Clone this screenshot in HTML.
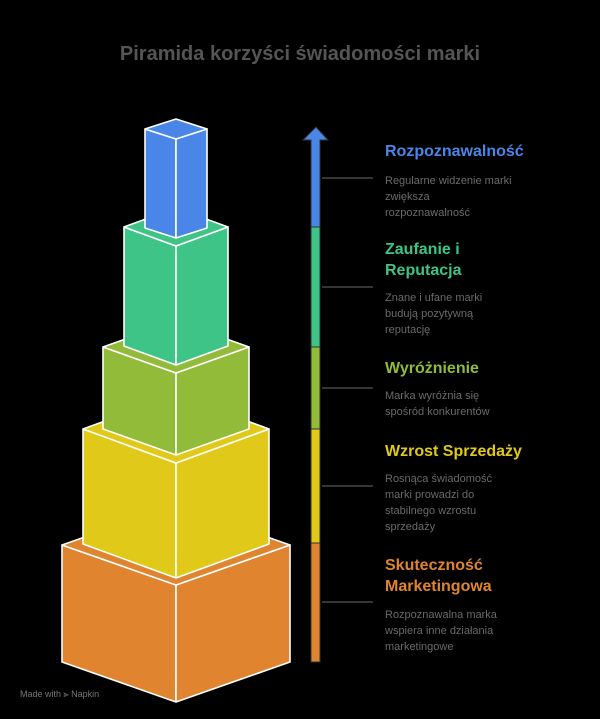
<!DOCTYPE html>
<html><head><meta charset="utf-8"><style>
html,body{margin:0;padding:0;background:#000;}
svg{display:block;}
text{font-family:"Liberation Sans",sans-serif;}
.h{font-size:16px;font-weight:bold;}
.d{font-size:11px;fill:#6a6a6a;}
</style></head><body>
<svg width="600" height="719" viewBox="0 0 600 719" xmlns="http://www.w3.org/2000/svg">
<rect width="600" height="719" fill="#000"/>
<text x="300" y="60" text-anchor="middle" font-size="20" font-weight="bold" fill="#555">Piramida korzyści świadomości marki</text>
<g stroke="#fff" stroke-width="1.6" stroke-linejoin="round">
<polygon points="62,545 176,585 176,702 62,662" fill="#e08430"/>
<polygon points="176,585 290,545 290,662 176,702" fill="#e08430"/>
<polygon points="176,585 62,545 176,505 290,545" fill="#e08430"/>
<polygon points="83,429 176,463 176,578 83,544" fill="#e0c918"/>
<polygon points="176,463 269,429 269,544 176,578" fill="#e0c918"/>
<polygon points="176,463 83,429 176,395 269,429" fill="#e0c918"/>
<polygon points="103,347 176,373 176,455 103,429" fill="#92bb3a"/>
<polygon points="176,373 249,347 249,429 176,455" fill="#92bb3a"/>
<polygon points="176,373 103,347 176,321 249,347" fill="#92bb3a"/>
<polygon points="124,227 176,246 176,365 124,346" fill="#3dc486"/>
<polygon points="176,246 228,227 228,346 176,365" fill="#3dc486"/>
<polygon points="176,246 124,227 176,208 228,227" fill="#3dc486"/>
<polygon points="145,129 176,139 176,238 145,228" fill="#4a86e8"/>
<polygon points="176,139 207,129 207,228 176,238" fill="#4a86e8"/>
<polygon points="176,139 145,129 176,119 207,129" fill="#4a86e8"/>
</g>
<g stroke="#333" stroke-width="1">
<polygon points="316,127 328,140 320,140 320,227 311,227 311,140 303,140" fill="#4a86e8"/>
<rect x="311" y="227" width="9" height="120" fill="#3dc486"/>
<rect x="311" y="347" width="9" height="82" fill="#92bb3a"/>
<rect x="311" y="429" width="9" height="114" fill="#e0c918"/>
<rect x="311" y="543" width="9" height="119" fill="#e08430"/>
</g>
<g stroke="#555" stroke-width="1.2">
<line x1="322" y1="178" x2="373" y2="178"/>
<line x1="322" y1="287" x2="373" y2="287"/>
<line x1="322" y1="388" x2="373" y2="388"/>
<line x1="322" y1="486" x2="373" y2="486"/>
<line x1="322" y1="602" x2="373" y2="602"/>
</g>
<text class="h" x="385" y="156" fill="#4a86e8">Rozpoznawalność</text>
<text class="d" x="385" y="184">Regularne widzenie marki</text>
<text class="d" x="385" y="200">zwiększa</text>
<text class="d" x="385" y="216">rozpoznawalność</text>
<text class="h" x="385" y="254" fill="#3dc486">Zaufanie i</text>
<text class="h" x="385" y="275" fill="#3dc486">Reputacja</text>
<text class="d" x="385" y="301">Znane i ufane marki</text>
<text class="d" x="385" y="317">budują pozytywną</text>
<text class="d" x="385" y="333">reputację</text>
<text class="h" x="385" y="373" fill="#92bb3a">Wyróżnienie</text>
<text class="d" x="385" y="399">Marka wyróżnia się</text>
<text class="d" x="385" y="415">spośród konkurentów</text>
<text class="h" x="385" y="456" fill="#e0c918">Wzrost Sprzedaży</text>
<text class="d" x="385" y="482">Rosnąca świadomość</text>
<text class="d" x="385" y="498">marki prowadzi do</text>
<text class="d" x="385" y="514">stabilnego wzrostu</text>
<text class="d" x="385" y="530">sprzedaży</text>
<text class="h" x="385" y="570" fill="#e08430">Skuteczność</text>
<text class="h" x="385" y="591" fill="#e08430">Marketingowa</text>
<text class="d" x="385" y="618">Rozpoznawalna marka</text>
<text class="d" x="385" y="634">wspiera inne działania</text>
<text class="d" x="385" y="650">marketingowe</text>
<text x="20" y="697" font-size="9" fill="#777">Made with ⫸ Napkin</text>
</svg>
</body></html>
